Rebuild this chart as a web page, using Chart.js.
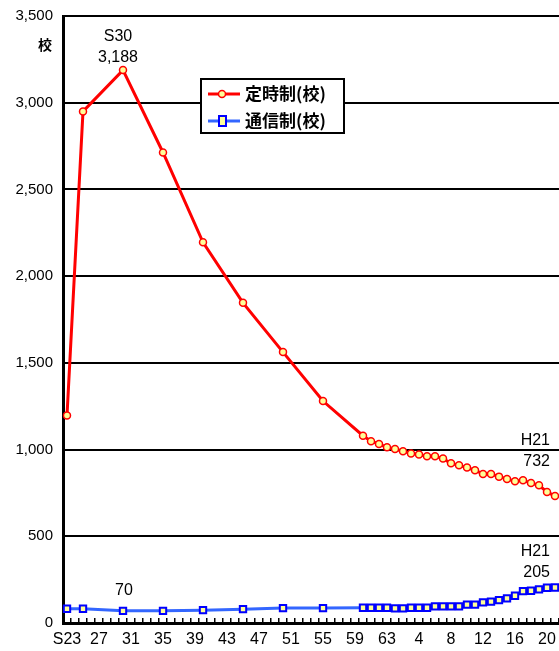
<!DOCTYPE html>
<html>
<head>
<meta charset="utf-8">
<script src="https://cdn.jsdelivr.net/npm/chart.js@4"></script>
<style>
  html, body { margin: 0; padding: 0; background: #fff; overflow: hidden; }
  canvas { display: block; }
</style>
</head>
<body>
<canvas id="myChart" width="559" height="651"></canvas>
<script>
// 年度（昭和23年〜平成21年）
const categories = [
  "S23", "S24", "S25", "S26", "S27", "S28", "S29", "S30", "S31", "S32",
  "S33", "S34", "S35", "S36", "S37", "S38", "S39", "S40", "S41", "S42",
  "S43", "S44", "S45", "S46", "S47", "S48", "S49", "S50", "S51", "S52",
  "S53", "S54", "S55", "S56", "S57", "S58", "S59", "S60", "S61", "S62",
  "S63", "H1", "H2", "H3", "H4", "H5", "H6", "H7", "H8", "H9",
  "H10", "H11", "H12", "H13", "H14", "H15", "H16", "H17", "H18", "H19",
  "H20", "H21"
];

// 軸に出す目盛ラベル（4年おき）
const tickLabels = ["S23", "27", "31", "35", "39", "43", "47", "51", "55", "59", "63", "4", "8", "12", "16", "20"];
const yTicks = [0, 500, 1000, 1500, 2000, 2500, 3000, 3500];

// 定時制（校）
const teijisei = [
  1197, null, 2950, null, null, null, null, 3188, null, null,
  null, null, 2713, null, null, null, null, 2195, null, null,
  null, null, 1846, null, null, null, null, 1562, null, null,
  null, null, 1280, null, null, null, null, 1080, 1048, 1032,
  1013, 1003, 990, 978, 971, 961, 961, 948, 921, 909,
  896, 881, 859, 859, 844, 831, 817, 823, 807, 794,
  756, 732
];

// 通信制（校）
const tsushinsei = [
  82, null, 82, null, null, null, null, 70, null, null,
  null, null, 70, null, null, null, null, 74, null, null,
  null, null, 80, null, null, null, null, 86, null, null,
  null, null, 86, null, null, null, null, 88, 88, 88,
  88, 84, 84, 88, 88, 88, 96, 96, 96, 96,
  106, 106, 119, 123, 132, 142, 157, 184, 186, 194,
  203, 205
];

const ctx = document.getElementById("myChart");
const numFont = "'Liberation Sans', Arial, sans-serif";
const jpFont = "'Noto Sans CJK JP', sans-serif";

// 注記と凡例を描く
const notes = {
  id: "notes",
  afterDraw(chart) {
    const c = chart.ctx;
    const x = chart.scales.x;
    const y = chart.scales.y;
    c.save();
    c.fillStyle = "#000";
    c.textBaseline = "middle";

    c.font = "bold 14px " + jpFont;
    c.textAlign = "center";
    c.fillText("校", 45, 45);

    c.font = "16px " + numFont;
    const px30 = x.getPixelForValue(7) - 5;
    c.fillText("S30", px30, y.getPixelForValue(3188) - 34);
    c.fillText("3,188", px30, y.getPixelForValue(3188) - 13);
    c.fillText("70", x.getPixelForValue(7) + 1, y.getPixelForValue(70) - 20);

    c.textAlign = "right";
    const pxEnd = x.getPixelForValue(61) - 5;
    c.fillText("H21", pxEnd, y.getPixelForValue(732) - 55);
    c.fillText("732", pxEnd, y.getPixelForValue(732) - 34);
    c.fillText("H21", pxEnd, y.getPixelForValue(205) - 36);
    c.fillText("205", pxEnd, y.getPixelForValue(205) - 15);

    // 凡例
    c.fillStyle = "#fff";
    c.fillRect(201, 79, 143, 54);
    c.strokeStyle = "#000";
    c.lineWidth = 2;
    c.strokeRect(201, 79, 143, 54);

    c.lineWidth = 3;
    c.strokeStyle = "#ff0000";
    c.beginPath(); c.moveTo(208, 94); c.lineTo(240, 94); c.stroke();
    c.fillStyle = "#ffff99";
    c.lineWidth = 1.5;
    c.beginPath(); c.arc(222, 94, 3.5, 0, Math.PI * 2); c.fill(); c.stroke();

    c.lineWidth = 3;
    c.strokeStyle = "#3366ff";
    c.beginPath(); c.moveTo(208, 121); c.lineTo(240, 121); c.stroke();
    c.strokeStyle = "#0000ff";
    c.lineWidth = 2;
    c.fillStyle = "#ffff99";
    c.fillRect(219, 116, 7, 10);
    c.strokeRect(219, 116, 7, 10);

    c.fillStyle = "#000";
    c.textAlign = "left";
    c.font = "bold 17px " + jpFont;
    c.fillText("定時制(校)", 245, 94);
    c.fillText("通信制(校)", 245, 121);
    c.restore();
  }
};

new Chart(ctx, {
  type: "line",
  data: {
    labels: categories,
    datasets: [
      {
        label: "定時制(校)",
        data: teijisei,
        borderColor: "#ff0000",
        borderWidth: 3,
        pointRadius: 3.5,
        pointBorderWidth: 1.5,
        pointBorderColor: "#ff0000",
        pointBackgroundColor: "#ffff99",
        spanGaps: true,
        tension: 0,
        clip: false
      },
      {
        label: "通信制(校)",
        data: tsushinsei,
        borderColor: "#3366ff",
        borderWidth: 3,
        pointStyle: "rect",
        pointRadius: 4.5,
        pointBorderWidth: 2,
        pointBorderColor: "#0000ff",
        pointBackgroundColor: "#ffff99",
        spanGaps: true,
        tension: 0,
        clip: false
      }
    ]
  },
  plugins: [notes],
  options: {
    responsive: false,
    devicePixelRatio: 1,
    animation: false,
    layout: { autoPadding: false, padding: { top: 16, right: 0, left: 0, bottom: 0 } },
    plugins: {
      legend: { display: false },
      tooltip: { enabled: false }
    },
    scales: {
      x: {
        offset: true,
        grid: {
          offset: true,
          drawOnChartArea: false,
          drawTicks: true,
          tickLength: -5,
          color: "#000",
          lineWidth: 1.5
        },
        border: { color: "#000", width: 3 },
        ticks: {
          autoSkip: false,
          maxRotation: 0,
          padding: 4,
          color: "#000",
          font: { family: numFont, size: 16, lineHeight: 2.25 },
          callback: (val, i) => (i % 4 === 0 ? tickLabels[i / 4] : "")
        },
        afterFit: (s) => { s.height = 28; s.paddingLeft = 0; s.paddingRight = 0; }
      },
      y: {
        min: 0,
        max: 3500,
        afterBuildTicks: (s) => { s.ticks = yTicks.map((v) => ({ value: v })); },
        grid: { color: "#000", lineWidth: 2, drawTicks: false },
        border: { color: "#000", width: 3 },
        ticks: {
          padding: 10,
          color: "#000",
          font: { family: numFont, size: 15 },
          callback: (v) => v.toLocaleString("en-US")
        },
        afterFit: (s) => { s.width = 63; s.paddingTop = 0; s.paddingBottom = 0; }
      }
    }
  }
});
</script>
</body>
</html>
